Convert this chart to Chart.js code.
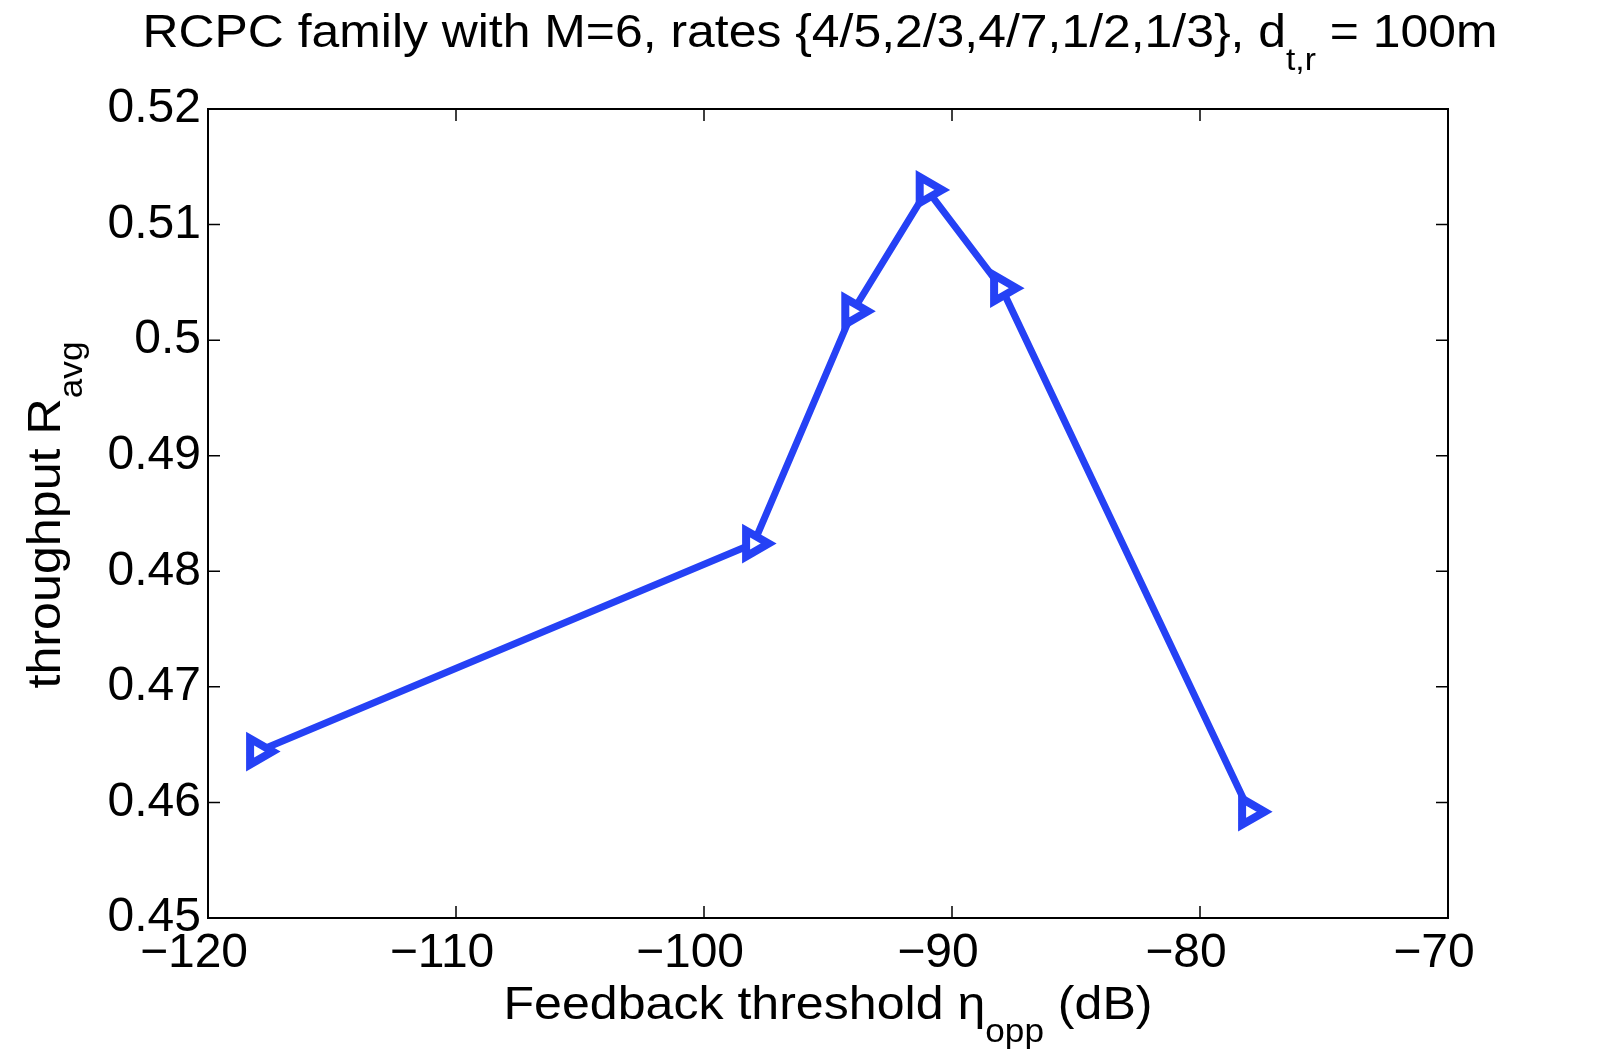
<!DOCTYPE html>
<html><head><meta charset="utf-8">
<script src="https://cdn.jsdelivr.net/npm/chart.js@4.4.1/dist/chart.umd.min.js"></script>
<style>html,body{margin:0;padding:0;background:#fff}#wrap{width:1598px;height:1052px;position:relative}</style>
</head><body><div id="wrap"><canvas id="c" width="1598" height="1052"></canvas></div>
<script>
// ---- data ----
const thresholds = [-118, -98, -94, -91, -88, -78];
const throughput = [0.4644, 0.4824, 0.5025, 0.5130, 0.5045, 0.4592];
const xTicks = [-120, -110, -100, -90, -80, -70];
const yTicks = [0.45, 0.46, 0.47, 0.48, 0.49, 0.50, 0.51, 0.52];
const titleParts = [["RCPC family with M=6, rates {4/5,2/3,4/7,1/2,1/3}, d", false], ["t,r", true], [" = 100m", false]];
const xLabelParts = [["Feedback threshold \u03B7", false], ["opp", true], [" (dB)", false]];
const yLabelParts = [["throughput R", false], ["avg", true]];

const FONT = "'Liberation Sans', Arial, Helvetica, sans-serif";
const LINE_COLOR = '#2541f5';

// draws text parts (with subscripts) centred at cx, stretched to targetWidth
function drawParts(ctx, parts, cx, baseY, mainSize, subSize, subDrop, targetWidth) {
  let total = 0;
  const widths = parts.map(([t, sub]) => {
    ctx.font = (sub ? subSize : mainSize) + 'px ' + FONT;
    const w = ctx.measureText(t).width; total += w; return w;
  });
  const sx = targetWidth ? targetWidth / total : 1;
  ctx.save();
  ctx.translate(cx, baseY);
  ctx.scale(sx, 1);
  let x = -total / 2;
  ctx.textAlign = 'left';
  ctx.textBaseline = 'alphabetic';
  parts.forEach(([t, sub], i) => {
    ctx.font = (sub ? subSize : mainSize) + 'px ' + FONT;
    ctx.fillText(t, x, sub ? subDrop : 0);
    x += widths[i];
  });
  ctx.restore();
}

const frame = {
  id: 'frame',
  afterDraw(chart) {
    const ctx = chart.ctx;
    const a = chart.chartArea;
    const xs = chart.scales.x, ys = chart.scales.y;
    ctx.save();
    ctx.strokeStyle = '#000';
    ctx.lineWidth = 1.5;
    const tl = 12;
    ctx.beginPath();
    xTicks.forEach(v => {
      const p = xs.getPixelForValue(v);
      ctx.moveTo(p, a.bottom); ctx.lineTo(p, a.bottom - tl);
      ctx.moveTo(p, a.top); ctx.lineTo(p, a.top + tl);
    });
    yTicks.forEach(v => {
      const p = ys.getPixelForValue(v);
      ctx.moveTo(a.left, p); ctx.lineTo(a.left + tl, p);
      ctx.moveTo(a.right, p); ctx.lineTo(a.right - tl, p);
    });
    ctx.stroke();
    ctx.lineWidth = 2;
    ctx.strokeRect(a.left, a.top, a.right - a.left, a.bottom - a.top);

    ctx.fillStyle = '#000';
    // title
    drawParts(ctx, titleParts, 820, 47, 46, 31, 23, 1355);
    // x label
    drawParts(ctx, xLabelParts, 828, 1019, 47, 33, 23, 649);
    // y label (rotated)
    ctx.save();
    ctx.translate(60, 515);
    ctx.rotate(-Math.PI / 2);
    drawParts(ctx, yLabelParts, 0, 0, 47, 33, 22, 347);
    ctx.restore();
    ctx.restore();
  }
};

const fmtTick = v => String(Number(v.toFixed(2))).replace('-', '\u2212');

new Chart(document.getElementById('c'), {
  type: 'line',
  data: {
    datasets: [{
      data: thresholds.map((x, i) => ({ x, y: throughput[i] })),
      borderColor: LINE_COLOR,
      backgroundColor: 'rgba(255,255,255,1)',
      borderWidth: 7,
      pointStyle: 'triangle',
      pointRotation: 90,
      pointRadius: 15,
      pointBorderWidth: 8,
      pointBorderColor: LINE_COLOR,
      pointBackgroundColor: '#fff',
      tension: 0,
      clip: false
    }]
  },
  options: {
    responsive: false,
    animation: false,
    devicePixelRatio: 1,
    layout: { padding: { top: 109, right: 150, left: 0, bottom: 0 } },
    plugins: { legend: { display: false }, title: { display: false }, tooltip: { enabled: false } },
    scales: {
      x: {
        type: 'linear', position: 'bottom', min: -120, max: -70,
        afterBuildTicks: s => { s.ticks = xTicks.map(v => ({ value: v })); },
        afterFit: s => { s.height = 134; },
        ticks: { callback: v => fmtTick(v), font: { family: FONT, size: 48 }, color: '#000', padding: 7, labelOffset: -14, maxRotation: 0, autoSkip: false },
        grid: { display: false, drawTicks: false },
        border: { display: false }
      },
      y: {
        type: 'linear', position: 'left', min: 0.45, max: 0.52,
        afterBuildTicks: s => { s.ticks = yTicks.map(v => ({ value: v })); },
        afterFit: s => { s.width = 208; },
        ticks: { callback: v => fmtTick(v), font: { family: FONT, size: 48 }, color: '#000', padding: 7, autoSkip: false },
        grid: { display: false, drawTicks: false },
        border: { display: false }
      }
    }
  },
  plugins: [frame]
});
</script>
</body></html>
